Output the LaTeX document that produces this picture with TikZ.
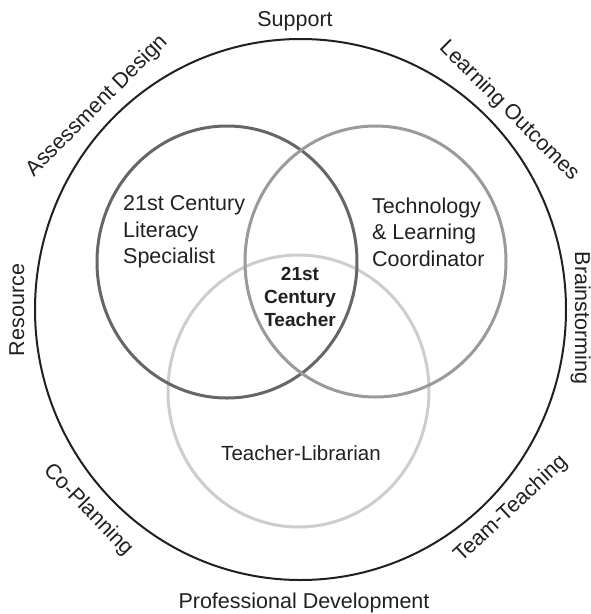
\documentclass[tikz,border=0pt]{standalone}
\usepackage{fontspec}
\setmainfont{Liberation Sans}
\begin{document}
\begin{tikzpicture}[x=1pt,y=-1pt,
  outerlbl/.style={inner sep=0pt, text=txt, font=\fontsize{21.5}{26}\selectfont},
  innerlbl/.style={inner sep=0pt, text=txt, align=left, font=\fontsize{21.5}{26.5}\selectfont},
  centerlbl/.style={inner sep=0pt, text=txt, align=center, font=\fontsize{19}{23}\selectfont\bfseries},
  ring/.style={line width=3pt}]
\definecolor{txt}{HTML}{231F20}
\definecolor{cdark}{HTML}{666666}
\definecolor{cmid}{HTML}{9A9A9A}
\definecolor{clight}{HTML}{CDCDCD}
\useasboundingbox (0,0) rectangle (591,614);
% outer circle
\draw[line width=2pt, txt] (300.5,309.5) ellipse [x radius=265.5, y radius=270.5];
% inner circles
\draw[ring, clight] (298.5,391) ellipse [x radius=130.5, y radius=136];
\draw[ring, cdark] (227,262) ellipse [x radius=130, y radius=136];
\draw[ring, cmid] (375.5,261.5) ellipse [x radius=130.5, y radius=135.5];
% inner labels
\node[innerlbl, anchor=west] (lit) at (123,232) {21st Century\\Literacy\\Specialist};
\node[innerlbl, anchor=west] (tech) at (372,232) {Technology\\\& Learning\\Coordinator};
\node[centerlbl] (teach) at (300,297) {21st\\Century\\Teacher};
\node[inner sep=0pt, text=txt, font=\fontsize{20.5}{24}\selectfont] (lib) at (301,453) {Teacher-Librarian};
% outer labels
\node[outerlbl, anchor=base] (sup) at (295,26) {Support};
\node[outerlbl, anchor=base] (pd) at (304,608) {Professional Development};
\node[outerlbl, rotate=45] (ad) at (97,106) {Assessment Design};
\node[outerlbl, rotate=-45] (lo) at (509,111) {Learning Outcomes};
\node[outerlbl, rotate=90, anchor=base] (res) at (24,310) {Resource};
\node[outerlbl, rotate=-90, anchor=base] (brain) at (575,318) {Brainstorming};
\node[outerlbl, rotate=-46] (cop) at (88,510) {Co-Planning};
\node[outerlbl, rotate=43] (tt) at (511,509) {Team-Teaching};
\end{tikzpicture}
\end{document}
